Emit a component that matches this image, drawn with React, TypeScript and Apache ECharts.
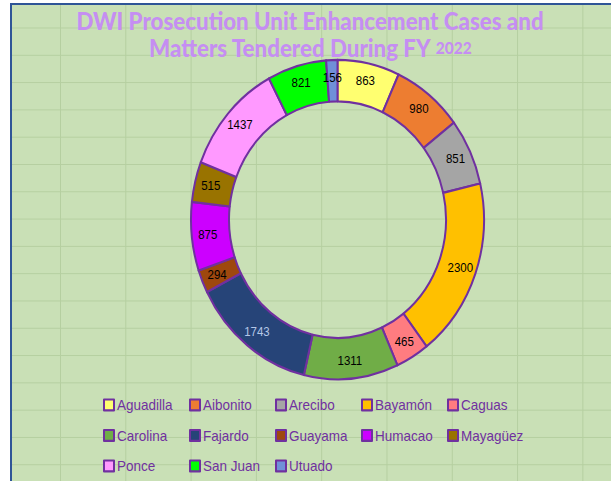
import React, { useEffect, useRef } from "react";
import * as echarts from "echarts";

const categories = ["Aguadilla", "Aibonito", "Arecibo", "Bayamón", "Caguas", "Carolina", "Fajardo", "Guayama", "Humacao", "Mayagüez", "Ponce", "San Juan", "Utuado"];
const values = [863, 980, 851, 2300, 465, 1311, 1743, 294, 875, 515, 1437, 821, 156];
const colors = ["#ffff70", "#ed7d31", "#a5a5a5", "#ffc000", "#ff7c80", "#70ad47", "#264478", "#9e480e", "#cc00ff", "#997300", "#ff99ff", "#00ff00", "#7090d8"];
const labelColors = ["#000", "#000", "#000", "#000", "#000", "#000", "#b4c7e7", "#000", "#000", "#000", "#000", "#000", "#000"];

const SY = 1.09;

export default function App() {
  const ref = useRef<HTMLDivElement>(null);
  useEffect(() => {
    if (!ref.current) return;
    const chart = echarts.init(ref.current, undefined, { renderer: "svg" });
    chart.setOption({
      animation: false,
      backgroundColor: "transparent",
      title: {
        text: "{a|DWI Prosecution Unit Enhancement Cases and}\n{a|Matters Tendered During FY }{b|2022}",
        left: 305,
        top: 1,
        textAlign: "center",
        textStyle: {
          rich: {
            a: { fontSize: 22.3, fontWeight: 900, fontFamily: "Lato", color: "#c58ef2", lineHeight: 25 },
            b: { fontSize: 15.5, fontWeight: 900, fontFamily: "Lato", color: "#c58ef2", lineHeight: 25 },
          },
        },
      },
      legend: {
        left: 98,
        top: 355,
        width: 440,
        orient: "horizontal",
        itemWidth: 10,
        itemHeight: 10,
        itemGap: 5,
        icon: "rect",
        itemStyle: { borderColor: "#7030a0", borderWidth: 2 },
        textStyle: { color: "#7030a0", fontSize: 13.5, fontFamily: "Liberation Sans", width: 67, lineHeight: 23, padding: [0, 0, 0, -2] },
        data: categories,
      },
      series: [
        {
          type: "pie",
          center: [337.5, 201.5],
          radius: [108.5, 146.5],
          startAngle: 90,
          clockwise: true,
          avoidLabelOverlap: false,
          itemStyle: { borderColor: "#7030a0", borderWidth: 2 },
          label: {
            show: true,
            position: "inside",
            fontSize: 11.5,
            fontFamily: "Liberation Sans",
            textBorderWidth: 0,
            formatter: "{c}",
          },
          labelLine: { show: false },
          emphasis: { disabled: true },
          data: categories.map((name, i) => ({
            name,
            value: values[i],
            itemStyle: { color: colors[i] },
            label: { color: labelColors[i] },
          })),
        },
      ],
    });
    return () => chart.dispose();
  }, []);

  return (
    <div style={{ position: "fixed", left: 0, top: 0, width: 611, height: 481, background: "#ffffff", overflow: "hidden" }}>
      <div
        style={{
          position: "absolute",
          left: 10,
          top: 3,
          width: 610,
          height: 490,
          boxSizing: "border-box",
          borderLeft: "2px solid #2f5597",
          borderTop: "2px solid #2f5597",
          backgroundColor: "#c9e0b6",
          backgroundImage:
            "linear-gradient(to right, #b5cfa0 1px, transparent 1px), linear-gradient(to bottom, #b5cfa0 1px, transparent 1px)",
          backgroundSize: "65.3px 27.3px",
          backgroundPosition: "48px 22.5px",
        }}
      />
      <div
        ref={ref}
        style={{
          position: "absolute",
          left: 0,
          top: 0,
          width: 611,
          height: 441,
          transform: `scaleY(${SY})`,
          transformOrigin: "0 0",
        }}
      />
    </div>
  );
}
